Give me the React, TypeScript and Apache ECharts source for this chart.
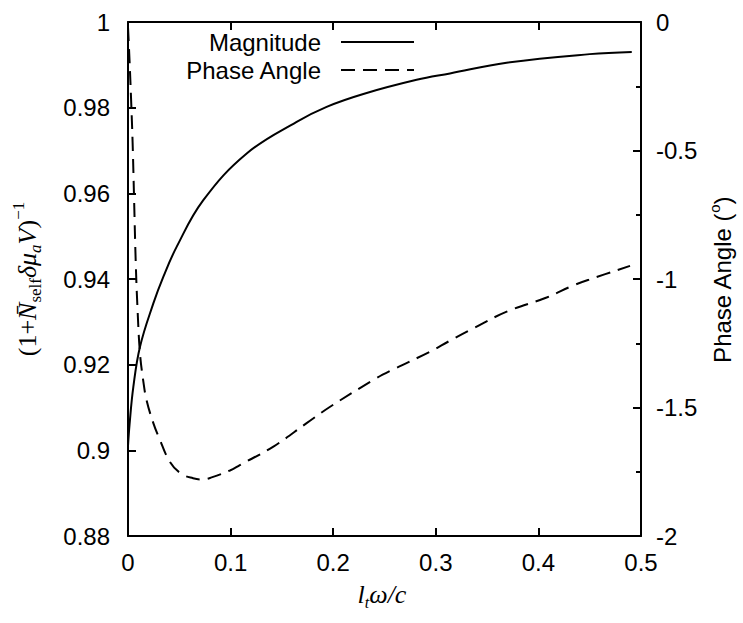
import React, { useEffect, useRef } from "react";
import * as echarts from "echarts";

// Magnitude curve (left axis)
const magX = [0, 0.0015, 0.0052, 0.0117, 0.0247, 0.0344, 0.0474, 0.0734, 0.1157, 0.1644, 0.1936, 0.2294, 0.2813, 0.3138, 0.369, 0.45, 0.491];
const magY = [0.901, 0.906, 0.9148, 0.9242, 0.9343, 0.9405, 0.9475, 0.9584, 0.9693, 0.9767, 0.9802, 0.9832, 0.9865, 0.988, 0.9905, 0.9925, 0.993];

// Phase angle curve (right axis, degrees)
const phaseX = [0, 0.0015, 0.003, 0.0045, 0.006, 0.0075, 0.0091, 0.0117, 0.015, 0.018, 0.0247, 0.03, 0.0409, 0.052, 0.0634, 0.0725, 0.0815, 0.0994, 0.109, 0.1417, 0.1741, 0.197, 0.2391, 0.2554, 0.2943, 0.3138, 0.3366, 0.3691, 0.408, 0.434, 0.4535, 0.4893];
const phaseY = [-0.02, -0.15, -0.3, -0.47, -0.7, -0.93, -1.1, -1.29, -1.4, -1.47, -1.561, -1.615, -1.712, -1.758, -1.775, -1.78, -1.772, -1.745, -1.724, -1.652, -1.561, -1.497, -1.393, -1.358, -1.283, -1.24, -1.192, -1.127, -1.072, -1.025, -0.997, -0.949];

const seriesNames = ["Magnitude", "Phase Angle"];

const sans = "'Liberation Sans', Arial, Helvetica, sans-serif";
const serif = "'Liberation Serif', 'DejaVu Serif', 'Times New Roman', serif";

const axisLine = { show: true, onZero: false, lineStyle: { color: "#000", width: 2 } };
const axisTick = { show: true, inside: true, length: 8, lineStyle: { color: "#000", width: 2 } };
const labelBase = { color: "#000", fontSize: 24, fontFamily: sans, showMinLabel: true, showMaxLabel: true };

const legendBase = {
  right: 328, orient: "vertical", align: "right", padding: 0,
  itemWidth: 73, itemHeight: 14, selectedMode: false,
  itemStyle: { color: "transparent", borderWidth: 0, opacity: 0 },
  textStyle: { fontSize: 24, fontFamily: sans, color: "#000", padding: [0, 15, 0, 0] },
};

export default function App() {
  const ref = useRef<HTMLDivElement>(null);
  useEffect(() => {
    const chart = echarts.init(ref.current!, null, { renderer: "svg" });
    const option: any = {
      animation: false,
      backgroundColor: "#fff",
      grid: { left: 128, top: 22, width: 513, height: 514, containLabel: false },
      xAxis: [
        {
          type: "value", position: "bottom", min: 0, max: 0.5, interval: 0.1,
          axisLine, axisTick, splitLine: { show: false },
          axisLabel: { ...labelBase, margin: 14, formatter: (v: number) => String(Math.round(v * 10) / 10) },
        },
        {
          type: "value", position: "top", min: 0, max: 0.5, interval: 0.1,
          axisLine, axisTick, splitLine: { show: false }, axisLabel: { show: false },
        },
      ],
      yAxis: [
        {
          type: "value", position: "left", min: 0.88, max: 1, interval: 0.02,
          axisLine, axisTick, splitLine: { show: false },
          axisLabel: { ...labelBase, margin: 18, formatter: (v: number) => String(+v.toFixed(2)) },
        },
        {
          type: "value", position: "right", min: -2, max: 0, interval: 0.5,
          axisLine, axisTick, splitLine: { show: false },
          minorTick: { show: true, splitNumber: 2, length: 5, lineStyle: { color: "#000", width: 2 } },
          axisLabel: { ...labelBase, margin: 15, formatter: (v: number) => String(+v.toFixed(2)) },
        },
      ],
      legend: [
        { ...legendBase, data: [seriesNames[0]], top: 30 },
        { ...legendBase, data: [seriesNames[1]], top: 58 },
      ],
      series: [
        {
          name: seriesNames[0], type: "line", xAxisIndex: 0, yAxisIndex: 0,
          data: magX.map((x, i) => [x, magY[i]]),
          symbol: "none", showSymbol: false, smooth: 0.4,
          lineStyle: { color: "#000", width: 2 }, itemStyle: { color: "#000" },
        },
        {
          name: seriesNames[1], type: "line", xAxisIndex: 0, yAxisIndex: 1,
          data: phaseX.map((x, i) => [x, phaseY[i]]),
          symbol: "none", showSymbol: false, smooth: 0.4,
          lineStyle: { color: "#000", width: 2, type: [14, 8] }, itemStyle: { color: "#000" },
        },
      ],
      graphic: [
        {
          type: "text", x: 27, y: 279, rotation: Math.PI / 2,
          style: {
            text: "{n|(1+}{i|N\u0304}{s|self}{i|δμ}{si|a}{i|V}{n|)}{sup|\u22121}",
            align: "center", verticalAlign: "middle",
            rich: {
              n: { fontSize: 26, fontFamily: serif, fill: "#000", lineHeight: 34 },
              i: { fontSize: 26, fontFamily: serif, fontStyle: "italic", fill: "#000", lineHeight: 34 },
              s: { fontSize: 17, fontFamily: serif, fill: "#000", lineHeight: 17, verticalAlign: "bottom" },
              si: { fontSize: 17, fontFamily: serif, fontStyle: "italic", fill: "#000", lineHeight: 17, verticalAlign: "bottom" },
              sup: { fontSize: 17, fontFamily: serif, fill: "#000", lineHeight: 17, verticalAlign: "top" },
            },
          },
        },
        {
          type: "text", x: 722, y: 280, rotation: Math.PI / 2,
          style: {
            text: "{n|Phase Angle (}{sup|o}{n|)}",
            align: "center", verticalAlign: "middle",
            rich: {
              n: { fontSize: 24, fontFamily: sans, fill: "#000", lineHeight: 30 },
              sup: { fontSize: 15, fontFamily: sans, fill: "#000", lineHeight: 15, verticalAlign: "top" },
            },
          },
        },
        {
          type: "text", x: 382, y: 594,
          style: {
            text: "{i|l}{s|t}{i|ω/c}",
            align: "center", verticalAlign: "middle",
            rich: {
              i: { fontSize: 26, fontFamily: serif, fontStyle: "italic", fill: "#000", lineHeight: 32 },
              s: { fontSize: 16, fontFamily: serif, fontStyle: "italic", fill: "#000", lineHeight: 16, verticalAlign: "bottom" },
            },
          },
        },
      ],
    };
    chart.setOption(option);
    return () => chart.dispose();
  }, []);
  return (
    <div
      ref={ref}
      style={{ position: "fixed", left: 0, top: 0, width: 743, height: 623, background: "#fff" }}
    />
  );
}
